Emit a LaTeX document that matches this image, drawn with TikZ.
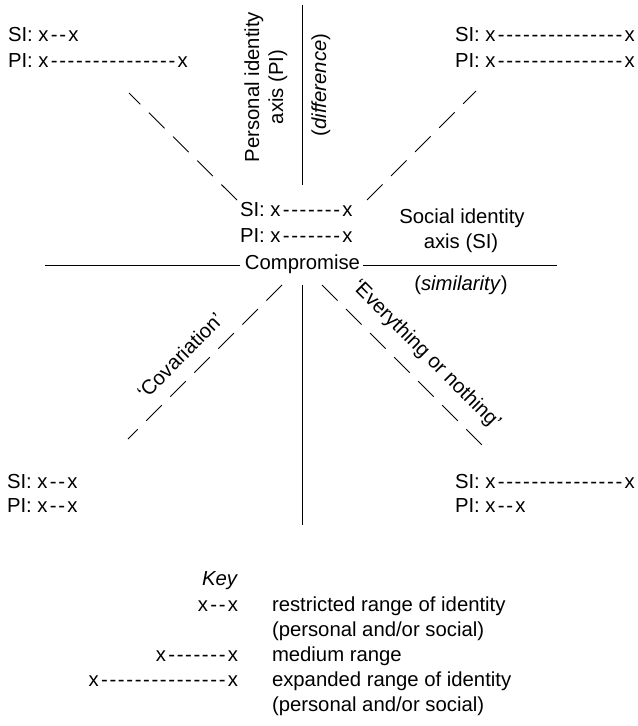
\documentclass[tikz,border=0pt]{standalone}
\usepackage{fontspec}
\setmainfont{Liberation Sans}
\newcommand\rng[1]{x\kern1.5bp\foreach\i in {1,...,#1}{\makebox[8.4bp]{-}}\kern1.5bp x}
\begin{document}
\begin{tikzpicture}[x=1bp,y=-1bp,
  lbl/.style={inner sep=0pt, outer sep=0pt, font=\fontsize{20.3bp}{25bp}\selectfont},
  axisline/.style={line width=0.9bp},
  diag/.style={line width=0.9bp, dash pattern=on 22bp off 12bp}]
\useasboundingbox (0,0) rectangle (638,726);

% centre of the diagram
\coordinate (C) at (302,265);

% personal identity axis (vertical)
\coordinate (vtop) at (302,5);
\coordinate (vmid) at (302,185);
\coordinate (vlow) at (302,285);
\coordinate (vbot) at (302,525);
\draw[axisline] (vtop) -- (vmid);
\draw[axisline] (vlow) -- (vbot);
\node[lbl, rotate=90, anchor=base] (pia) at (259,87) {Personal identity};
\node[lbl, rotate=90, anchor=base] (pib) at (283,87) {axis (PI)};
\node[lbl, rotate=90, anchor=base] (pdiff) at (326,85) {(\textit{difference})};

% centre labels
\node[lbl, anchor=base west] (csi) at (240,216) {SI: \rng{7}};
\node[lbl, anchor=base west] (cpi) at (240,242) {PI: \rng{7}};
\node[lbl, anchor=base] (comp) at (302.5,269) {Compromise};

% social identity axis (horizontal)
\coordinate (hl) at (45,265);
\coordinate (hr) at (557,265);
\draw[axisline] (hl) -- ([xshift=-5bp]hl -| comp.west);
\draw[axisline] ([xshift=3bp]hr -| comp.east) -- (hr);
\node[lbl, anchor=base] (sia) at (462,223) {Social identity};
\node[lbl, anchor=base] (sib) at (461,248) {axis (SI)};
\node[lbl, anchor=base] (ssim) at (461,290) {(\textit{similarity})};

% diagonals
\coordinate (ul1) at (237,200); \coordinate (ul2) at (129,93);
\coordinate (ur1) at (367,200); \coordinate (ur2) at (476,91);
\coordinate (ll1) at (282,285); \coordinate (ll2) at (128,439);
\coordinate (lr1) at (322,285); \coordinate (lr2) at (483,446);
\draw[diag] (ul1) -- (ul2);
\draw[diag] (ur1) -- (ur2);
\draw[diag] (ll1) -- (ll2);
\draw[diag] (lr1) -- (lr2);
\node[lbl, rotate=45] (cov) at (180,356) {‘Covariation’};
\node[lbl, rotate=-45] (eon) at (426,355) {‘Everything or nothing’};

% corner profiles
\node[lbl, anchor=base west] (tlsi) at (8,42) {SI: \rng{2}};
\node[lbl, anchor=base west] (tlpi) at (8,68) {PI: \rng{15}};
\node[lbl, anchor=base west] (trsi) at (455,42) {SI: \rng{15}};
\node[lbl, anchor=base west] (trpi) at (455,68) {PI: \rng{15}};
\node[lbl, anchor=base west] (blsi) at (7,488) {SI: \rng{2}};
\node[lbl, anchor=base west] (blpi) at (7,512) {PI: \rng{2}};
\node[lbl, anchor=base west] (brsi) at (455,488) {SI: \rng{15}};
\node[lbl, anchor=base west] (brpi) at (455,512) {PI: \rng{2}};

% key
\node[lbl, anchor=base east] (key) at (238,585) {\textit{Key}};
\node[lbl, anchor=base east] (k1) at (238,611) {\rng{2}};
\node[lbl, anchor=base east] (k2) at (238,661) {\rng{7}};
\node[lbl, anchor=base east] (k3) at (238,686) {\rng{15}};
\node[lbl, anchor=base west] (d1) at (272,611) {restricted range of identity};
\node[lbl, anchor=base west] (d1b) at (272,636) {(personal and/or social)};
\node[lbl, anchor=base west] (d2) at (272,661) {medium range};
\node[lbl, anchor=base west] (d3) at (272,686) {expanded range of identity};
\node[lbl, anchor=base west] (d3b) at (272,711) {(personal and/or social)};
\end{tikzpicture}
\end{document}
